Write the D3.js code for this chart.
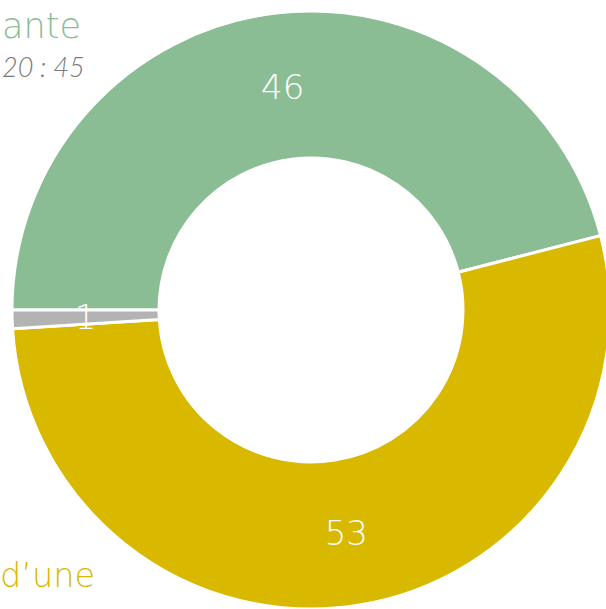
<!DOCTYPE html>
<html>
<head>
<meta charset="utf-8">
<script src="https://cdn.jsdelivr.net/npm/d3@7"></script>
<style>
  html, body { margin: 0; padding: 0; background: #fff; overflow: hidden; }
  svg { display: block; }
  text { font-family: "DejaVu Sans", sans-serif; font-weight: 200; }
  text.sub { font-family: "Lato", "DejaVu Sans", sans-serif; font-weight: 300; font-style: italic; word-spacing: 0px; }
</style>
</head>
<body>
<svg id="chart" width="606" height="609"></svg>
<script>
// Data
const categories = ["A", "B", "C"];
const values = [46, 53, 1];
const colors = ["#8bbd94", "#d9b800", "#b3b3b3"];
const outsideLabels = ["ante", "d\u2019une"];
const outsideLabelColors = ["#8bbd94", "#d9b800"];
const subLabel = "20 : 45";

const W = 606, H = 609;
const cx = 311, cy = 310, rOuter = 299, rInner = 152;

const svg = d3.select("#chart");
const g = svg.append("g").attr("transform", `translate(${cx},${cy})`);

const pie = d3.pie().sort(null).value(d => d)
  .startAngle(-Math.PI / 2).endAngle(Math.PI * 1.5);
const arcs = pie(values);
const arc = d3.arc().innerRadius(rInner).outerRadius(rOuter);

g.selectAll("path.slice").data(arcs).enter().append("path")
  .attr("class", "slice")
  .attr("d", arc)
  .attr("fill", (d, i) => colors[i])
  .attr("stroke", "#ffffff")
  .attr("stroke-width", 3);

const rl = (rInner + rOuter) / 2;
const labelArc = d3.arc().innerRadius(rl).outerRadius(rl);
g.selectAll("text.val").data(arcs).enter().append("text")
  .attr("class", "val")
  .attr("transform", d => `translate(${labelArc.centroid(d)})`)
  .attr("text-anchor", "middle")
  .attr("dy", "0.36em")
  .attr("fill", "#ffffff")
  .attr("font-size", 34)
  .text(d => d.data);

// Outside labels (at the left edge, as in the reference)
svg.append("text")
  .attr("x", 81).attr("y", 38)
  .attr("text-anchor", "end")
  .attr("fill", outsideLabelColors[0])
  .attr("font-size", 35)
  .text(outsideLabels[0]);

svg.append("text")
  .attr("class", "sub")
  .attr("x", 2).attr("y", 77)
  .attr("text-anchor", "start")
  .attr("fill", "#7a7a7a")
  .attr("font-size", 27)
  .text(subLabel);

svg.append("text")
  .attr("x", 95).attr("y", 587)
  .attr("text-anchor", "end")
  .attr("fill", outsideLabelColors[1])
  .attr("font-size", 33.5)
  .text(outsideLabels[1]);
</script>
</body>
</html>
